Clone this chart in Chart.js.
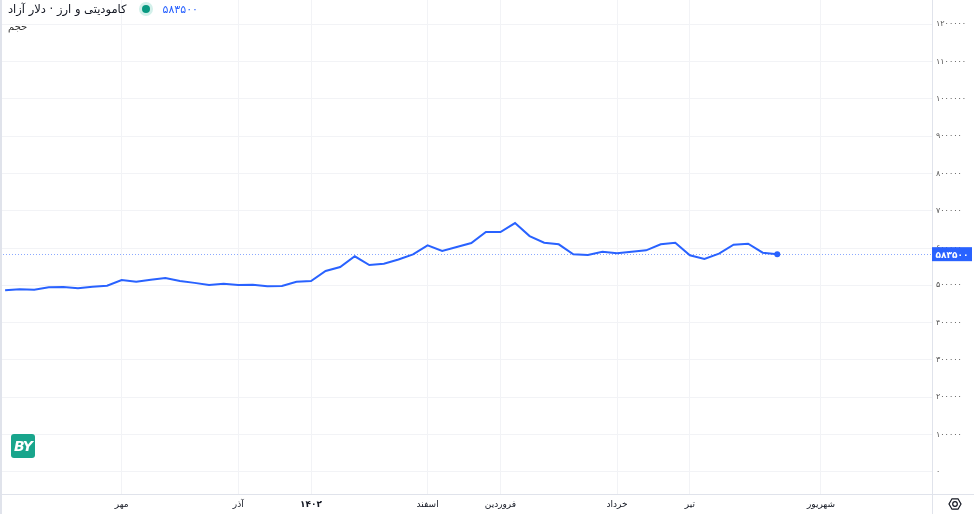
<!DOCTYPE html>
<html>
<head>
<meta charset="utf-8">
<script src="https://cdn.jsdelivr.net/npm/chart.js@4"></script>
<style>
  body { margin: 0; background: #fff; }
  .wrap { position: relative; width: 974px; height: 514px; overflow: hidden; }
  .edge { position: absolute; left: 0; top: 0; width: 2px; height: 514px; background: #e0e3eb; }
  .legend { position: absolute; left: 8px; top: 2px; font-family: 'DejaVu Sans', sans-serif; display: flex; align-items: center; }
  .legend .name { font-size: 11.5px; color: #131722; direction: rtl; }
  .legend .dot { width: 8px; height: 8px; border-radius: 50%; background: #089981; box-shadow: 0 0 0 3px #d3f0ea; margin: 0 13px 0 15px; }
  .legend .val { font-size: 11px; color: #2962ff; }
  .vol { position: absolute; left: 8px; top: 21px; font-family: 'DejaVu Sans', sans-serif; font-size: 10px; color: #333; }
  .logo { position: absolute; left: 11px; top: 434px; width: 24px; height: 24px; border-radius: 3px; background: #18a58c;
          color: #fff; font: bold italic 14px 'DejaVu Sans', sans-serif; text-align: center; line-height: 24px; letter-spacing: -1px; }
</style>
</head>
<body>
<div class="wrap">
  <canvas id="priceChart" width="974" height="514"></canvas>
  <div class="edge"></div>
  <div class="legend"><span class="name">کامودیتی و ارز · دلار آزاد</span><span class="dot"></span><span class="val" id="lastVal"></span></div>
  <div class="vol">حجم</div>
  <div class="logo">BY</div>
</div>
<script>
// weekly free-market dollar price
const prices = [
  486700, 489400, 488300, 494700, 495500, 492100, 496300, 499000, 514300, 509700,
  515100, 519700, 511600, 506500, 500900, 504400, 500900, 501700, 497400, 498200,
  509700, 511600, 538400, 549100, 577800, 554500, 558000, 569200, 583100, 607200,
  592000, 602700, 613400, 642900, 642900, 667000, 632100, 614200, 609900, 583100,
  581300, 590100, 585800, 590100, 593800, 609900, 614200, 580400, 570500, 584800,
  608800, 611500, 587400, 583500
];
const monthLabels = ['مهر', 'آذر', '۱۴۰۲', 'اسفند', 'فروردین', 'خرداد', 'تیر', 'شهریور'];
const monthIdx = [8, 16, 21, 29, 34, 42, 47, 56];
const yTicks = [0, 100000, 200000, 300000, 400000, 500000, 600000, 700000, 800000, 900000, 1000000, 1100000, 1200000];

const faDigits = n => String(n).replace(/\d/g, d => '۰۱۲۳۴۵۶۷۸۹'[d]);
const last = prices.length - 1;
document.getElementById('lastVal').textContent = faDigits(prices[last]);

const BLUE = '#2962ff';

// last price line + label, frame lines, settings icon
const extras = {
  id: 'extras',
  beforeDatasetsDraw(chart) {
    const { ctx, chartArea, scales } = chart;
    const y = Math.round(scales.y.getPixelForValue(prices[last])) + 0.5;
    ctx.save();
    ctx.strokeStyle = 'rgba(41,98,255,0.55)';
    ctx.lineWidth = 1;
    ctx.setLineDash([1, 2]);
    ctx.beginPath();
    ctx.moveTo(chartArea.left, y);
    ctx.lineTo(chartArea.right, y);
    ctx.stroke();
    ctx.restore();
  },
  afterDraw(chart) {
    const { ctx, chartArea, scales, width, height } = chart;
    ctx.save();
    ctx.strokeStyle = '#e0e3eb';
    ctx.lineWidth = 1;
    ctx.beginPath();
    ctx.moveTo(0, chartArea.bottom + 0.5);
    ctx.lineTo(width, chartArea.bottom + 0.5);
    ctx.moveTo(chartArea.right + 0.5, 0);
    ctx.lineTo(chartArea.right + 0.5, height);
    ctx.stroke();

    const y = scales.y.getPixelForValue(prices[last]);
    ctx.fillStyle = BLUE;
    ctx.fillRect(chartArea.right, y - 7, 40, 14);
    ctx.fillStyle = '#fff';
    ctx.font = 'bold 9px "DejaVu Sans", sans-serif';
    ctx.textAlign = 'center';
    ctx.textBaseline = 'middle';
    ctx.fillText(faDigits(prices[last]), chartArea.right + 20, y + 1);

    // settings hexagon
    const cx = 955, cy = 504, r = 6;
    ctx.strokeStyle = '#131722';
    ctx.lineWidth = 1.2;
    ctx.beginPath();
    for (let i = 0; i < 6; i++) {
      const a = Math.PI / 3 * i;
      const px = cx + r * Math.cos(a), py = cy + r * Math.sin(a);
      i ? ctx.lineTo(px, py) : ctx.moveTo(px, py);
    }
    ctx.closePath();
    ctx.stroke();
    ctx.beginPath();
    ctx.arc(cx, cy, 2.3, 0, Math.PI * 2);
    ctx.stroke();
    ctx.restore();
  }
};

new Chart(document.getElementById('priceChart'), {
  type: 'line',
  data: {
    datasets: [{
      data: prices.map((v, i) => ({ x: i, y: v })),
      borderColor: BLUE,
      borderWidth: 2,
      tension: 0,
      pointRadius: ctx => ctx.dataIndex === last ? 3 : 0,
      pointBackgroundColor: BLUE,
      pointBorderWidth: 0
    }]
  },
  options: {
    responsive: false,
    animation: false,
    devicePixelRatio: 1,
    layout: { padding: 0, autoPadding: false },
    plugins: { legend: { display: false }, tooltip: { enabled: false } },
    scales: {
      x: {
        type: 'linear',
        min: -0.35,
        max: 63.62,
        grid: { color: '#f2f3f6', drawTicks: false },
        border: { display: false },
        afterBuildTicks: s => { s.ticks = monthIdx.map(v => ({ value: v })); },
        afterFit: s => { s.height = 20; s.paddingLeft = 0; s.paddingRight = 0; },
        ticks: {
          padding: 5,
          maxRotation: 0,
          autoSkip: false,
          color: '#131722',
          font: ctx => ({ family: '"DejaVu Sans", sans-serif', size: 9, weight: monthIdx[ctx.index] === 21 ? 'bold' : 'normal' }),
          callback: v => monthLabels[monthIdx.indexOf(v)]
        }
      },
      y: {
        position: 'right',
        min: -59800,
        max: 1265300,
        grid: { color: '#f2f3f6', drawTicks: false },
        border: { display: false },
        afterBuildTicks: s => { s.ticks = yTicks.map(v => ({ value: v })); },
        afterFit: s => { s.width = 42; s.paddingTop = 0; s.paddingBottom = 0; },
        ticks: {
          padding: 4,
          color: '#555',
          font: { family: '"DejaVu Sans", sans-serif', size: 8 },
          callback: v => faDigits(v)
        }
      }
    }
  },
  plugins: [extras]
});
</script>
</body>
</html>
